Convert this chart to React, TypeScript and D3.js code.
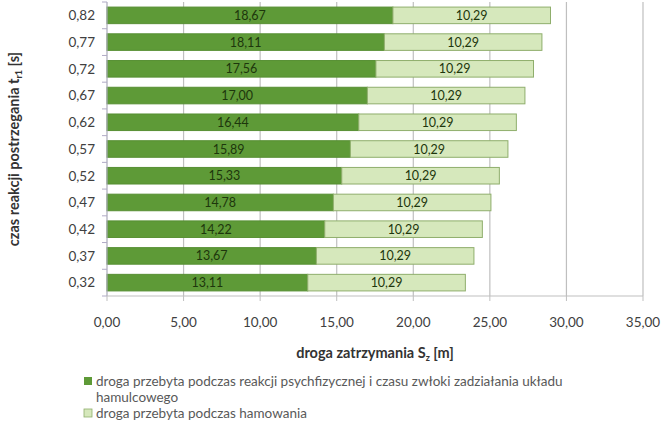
import React from "react";
import * as d3 from "d3";

// Perception-reaction times (s), bottom to top
const reactionTimes = [0.32, 0.37, 0.42, 0.47, 0.52, 0.57, 0.62, 0.67, 0.72, 0.77, 0.82];
// Distance travelled during reaction + brake system delay (m)
const reactionDistance = [13.11, 13.67, 14.22, 14.78, 15.33, 15.89, 16.44, 17.0, 17.56, 18.11, 18.67];
// Braking distance (m)
const brakingDistance = [10.29, 10.29, 10.29, 10.29, 10.29, 10.29, 10.29, 10.29, 10.29, 10.29, 10.29];
const xTicks = [0, 5, 10, 15, 20, 25, 30, 35];

const seriesNames = [
  "droga przebyta podczas reakcji psychfizycznej i czasu zwłoki zadziałania układu",
  "hamulcowego",
  "droga przebyta podczas hamowania",
];

const W = 663;
const H = 430;
const FONT = "Lato, 'Open Sans', sans-serif";
const DARK = "#5e9a37";
const LIGHT = "#d6e8bc";
const LIGHT_STROKE = "#8fae6c";

const fmt = (v: number) => v.toFixed(2).replace(".", ",");

export default function App() {
  const x = d3.scaleLinear().domain([0, 35]).range([107, 643]);
  const cats = reactionTimes.map(fmt);
  const y = d3
    .scaleBand<string>()
    .domain([...cats].reverse())
    .range([2, 296])
    .paddingInner(0.38)
    .paddingOuter(0.19);

  const stack = d3
    .stack<any>()
    .keys(["reaction", "braking"])(
      cats.map((c, i) => ({ cat: c, reaction: reactionDistance[i], braking: brakingDistance[i] }))
    );

  const bw = y.bandwidth();
  const baseY = 296;
  const boundaries = d3.range(cats.length + 1).map((i) => 2 + i * y.step());

  return (
    <svg width={W} height={H} style={{ position: "absolute", left: 0, top: 0, background: "#fff" }} fontFamily={FONT}>
      {/* vertical gridlines */}
      {xTicks.slice(1).map((t) => (
        <line key={t} x1={x(t)} x2={x(t)} y1={2} y2={baseY} stroke="#bfbfbf" strokeWidth={1.2} />
      ))}

      {/* bars */}
      {stack.map((layer, li) =>
        layer.map((d: any, i: number) => {
          const yy = y(d.data.cat)!;
          const x0 = x(d[0]);
          const x1 = x(d[1]);
          const val = d[1] - d[0];
          return (
            <g key={`${li}-${i}`}>
              <rect
                x={x0}
                y={yy}
                width={x1 - x0}
                height={bw}
                fill={li === 0 ? DARK : LIGHT}
                stroke={li === 0 ? "#578f33" : LIGHT_STROKE}
                strokeWidth={1}
              />
              <text
                x={(x0 + x1) / 2}
                y={yy + bw / 2}
                dy="0.36em"
                textAnchor="middle"
                fontSize={12.5}
                fill="#1d360c"
              >
                {fmt(val)}
              </text>
            </g>
          );
        })
      )}

      {/* axes */}
      <line x1={x(0)} x2={x(0)} y1={2} y2={baseY} stroke="#a9a9b8" strokeWidth={1.2} />
      <line x1={x(0)} x2={x(35)} y1={baseY} y2={baseY} stroke="#bfbfbf" strokeWidth={1.2} />
      {boundaries.map((b, i) => (
        <line key={i} x1={x(0) - 5} x2={x(0)} y1={b} y2={b} stroke="#b0aac6" strokeWidth={1} />
      ))}
      {xTicks.map((t) => (
        <line key={t} x1={x(t)} x2={x(t)} y1={baseY} y2={baseY + 5} stroke="#bfbfbf" strokeWidth={1} />
      ))}

      {/* y tick labels */}
      {cats.map((c) => (
        <text key={c} x={95} y={y(c)! + bw / 2} dy="0.36em" textAnchor="end" fontSize={13.5} fill="#404040">
          {c}
        </text>
      ))}

      {/* x tick labels */}
      {xTicks.map((t) => (
        <text key={t} x={x(t)} y={322} dy="0.36em" textAnchor="middle" fontSize={13.5} fill="#404040">
          {fmt(t)}
        </text>
      ))}

      {/* axis titles */}
      <text x={375} y={353} dy="0.36em" textAnchor="middle" fontSize={14.5} fontWeight="bold" fill="#333">
        droga zatrzymania S<tspan fontSize={9} dy={3}>z</tspan>
        <tspan dy={-3}> [m]</tspan>
      </text>
      <text
        transform={`translate(14,149) rotate(-90)`}
        textAnchor="middle"
        dy="0.36em"
        fontSize={14.5}
        fontWeight="bold"
        fill="#333"
      >
        czas reakcji postrzegania t<tspan fontSize={9} dy={3}>r1</tspan>
        <tspan dy={-3}> [s]</tspan>
      </text>

      {/* legend */}
      <rect x={84} y={377} width={8} height={8} fill={DARK} />
      <text x={96} y={381} dy="0.36em" fontSize={13.5} fill="#595959">
        {seriesNames[0]}
      </text>
      <text x={96} y={397} dy="0.36em" fontSize={13.5} fill="#595959">
        {seriesNames[1]}
      </text>
      <rect x={84} y={409} width={8} height={8} fill={LIGHT} stroke={LIGHT_STROKE} strokeWidth={0.8} />
      <text x={96} y={413} dy="0.36em" fontSize={13.5} fill="#595959">
        {seriesNames[2]}
      </text>
    </svg>
  );
}
